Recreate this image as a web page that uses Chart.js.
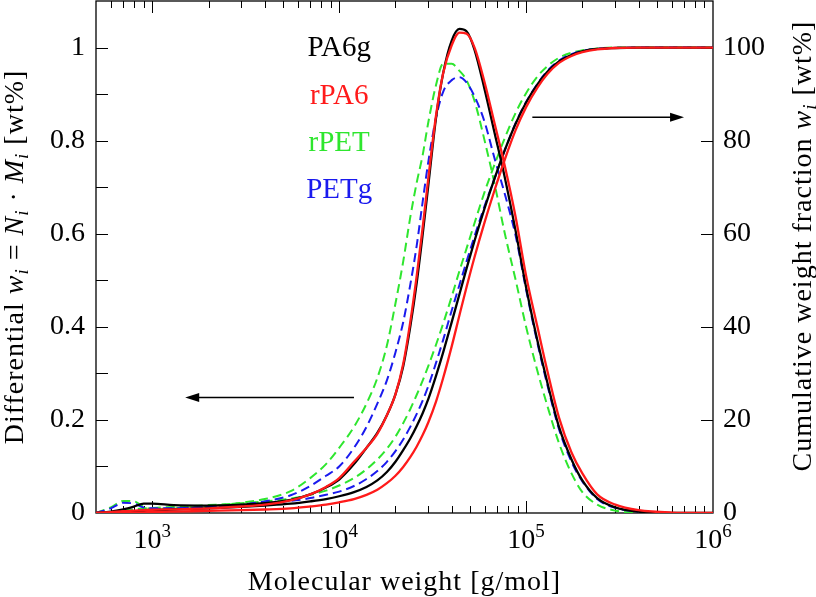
<!DOCTYPE html>
<html>
<head>
<meta charset="utf-8">
<script src="https://cdn.jsdelivr.net/npm/chart.js@4"></script>
<style>
html, body { margin: 0; padding: 0; background: #fff; }
#wrap { width: 816px; height: 597px; }
</style>
</head>
<body>
<div id="wrap"><canvas id="grafico"></canvas></div>
<script>
// massa molar [g/mol]
const massaMolar = [500, 600, 700, 800, 900, 1000, 1300, 2000, 3000, 4000, 5500, 7000, 8500, 10000, 12000,
    14000, 16000, 18000, 20000, 22000, 24000, 26000, 28000, 30000, 33000, 36000, 40000, 44000, 48000, 53000,
    60000, 68000, 77000, 88000, 100000, 115000, 130000, 150000, 175000, 200000, 240000, 300000, 400000, 600000, 1000000]

// diferencial w_i [wt%]
const difPA6g = [0, 0.003, 0.008, 0.014, 0.02, 0.02, 0.017, 0.016, 0.018, 0.021, 0.028, 0.04, 0.055, 0.072, 0.105,
    0.14, 0.172, 0.21, 0.255, 0.315, 0.4, 0.495, 0.6, 0.705, 0.85, 0.945, 1.015, 1.04, 1.035, 0.995,
    0.91, 0.815, 0.72, 0.605, 0.485, 0.37, 0.28, 0.185, 0.115, 0.07, 0.032, 0.012, 0.003, 0, 0]
const difRPA6 = [0, 0.002, 0.004, 0.005, 0.006, 0.007, 0.008, 0.01, 0.014, 0.018, 0.027, 0.04, 0.056, 0.075, 0.11,
    0.14, 0.17, 0.21, 0.255, 0.32, 0.41, 0.51, 0.615, 0.72, 0.855, 0.945, 1.005, 1.032, 1.03, 1.0,
    0.925, 0.835, 0.745, 0.635, 0.51, 0.4, 0.305, 0.205, 0.13, 0.085, 0.04, 0.018, 0.006, 0.001, 0]
const difRPET = [0, 0.012, 0.026, 0.025, 0.013, 0.009, 0.01, 0.015, 0.022, 0.03, 0.047, 0.075, 0.105, 0.14, 0.185,
    0.235, 0.29, 0.36, 0.45, 0.54, 0.635, 0.71, 0.77, 0.84, 0.92, 0.965, 0.965, 0.95, 0.93, 0.885,
    0.8, 0.705, 0.6, 0.5, 0.4, 0.305, 0.23, 0.15, 0.085, 0.045, 0.018, 0.005, 0.001, 0, 0]
const difPETg = [0, 0.01, 0.022, 0.02, 0.012, 0.01, 0.01, 0.013, 0.018, 0.025, 0.038, 0.058, 0.08, 0.1, 0.14,
    0.185, 0.235, 0.285, 0.345, 0.41, 0.49, 0.575, 0.67, 0.755, 0.85, 0.905, 0.93, 0.936, 0.925, 0.895,
    0.84, 0.76, 0.685, 0.595, 0.48, 0.365, 0.275, 0.18, 0.11, 0.068, 0.03, 0.011, 0.003, 0, 0]

// fracao acumulada [wt%]
const cumPA6g = [0, 0.05, 0.15, 0.3, 0.45, 0.55, 0.75, 1.0, 1.3, 1.6, 2.0, 2.5, 3.0, 3.6, 4.5,
    5.6, 7.0, 8.8, 11.0, 13.5, 16.0, 18.7, 21.5, 24.5, 29.5, 34.5, 41.0, 47.0, 52.5, 58.5,
    65.5, 72.0, 78.0, 83.7, 88.2, 92.1, 94.8, 97.0, 98.4, 99.2, 99.7, 99.9, 100, 100, 100]
const cumRPA6 = [0, 0, 0.05, 0.1, 0.15, 0.2, 0.3, 0.45, 0.6, 0.75, 1.0, 1.4, 1.8, 2.3, 3.0,
    3.9, 5.0, 6.4, 8.0, 9.9, 12.0, 14.3, 16.8, 19.5, 24.0, 29.0, 35.8, 42.5, 48.5, 55.0,
    62.5, 69.5, 76.0, 82.3, 87.2, 91.4, 94.3, 96.7, 98.2, 99.0, 99.6, 99.9, 100, 100, 100]
const cumRPET = [0, 0.2, 0.5, 0.8, 1.0, 1.1, 1.3, 1.7, 2.1, 2.5, 3.1, 3.9, 4.8, 5.9, 7.5,
    9.4, 11.5, 13.8, 16.4, 19.3, 22.3, 25.4, 28.5, 31.6, 36.2, 40.7, 46.5, 52.0, 56.8, 62.3,
    69.0, 75.0, 80.6, 86.0, 90.2, 93.8, 96.0, 97.8, 98.9, 99.4, 99.8, 100, 100, 100, 100]
const cumPETg = [0, 0.1, 0.3, 0.5, 0.65, 0.75, 0.95, 1.3, 1.7, 2.1, 2.6, 3.2, 3.9, 4.6, 5.8,
    7.3, 9.0, 11.0, 13.3, 15.8, 18.5, 21.3, 24.2, 27.3, 32.3, 37.2, 43.5, 49.0, 54.0, 59.5,
    66.0, 72.0, 78.0, 83.8, 88.3, 92.2, 95.0, 97.2, 98.6, 99.3, 99.7, 99.9, 100, 100, 100]

const amostras = ['PA6g', 'rPA6', 'rPET', 'PETg']
const posicaoRotulos = [1.0, 0.895, 0.795, 0.695]   // em unidades do eixo esquerdo, x = 1e4
const decadas = [3, 4, 5, 6]

const preto = '#000000'
const vermelho = '#ff1a1a'
const verde = '#2ee62e'
const azul = '#1a1aee'
const fonte = '"Liberation Serif", "DejaVu Serif", serif'

function serie(nome, valores, eixo, cor, tracejado, ordem) {
    return {
        label: nome,
        data: massaMolar.map((m, i) => ({ x: m, y: valores[i] })),
        yAxisID: eixo,
        borderColor: cor,
        borderWidth: tracejado ? 2 : 2.3,
        borderDash: tracejado ? [9, 5] : [],
        pointRadius: 0,
        fill: false,
        cubicInterpolationMode: 'monotone',
        order: ordem
    }
}

function escreverTrechos(ctx, trechos, x, y, angulo) {
    ctx.save()
    ctx.translate(x, y)
    ctx.rotate(angulo)
    ctx.letterSpacing = '1px'
    let total = 0
    trechos.forEach(t => { ctx.font = t.f; total += ctx.measureText(t.t).width })
    let cx = -total / 2
    ctx.textAlign = 'left'
    ctx.textBaseline = 'alphabetic'
    ctx.fillStyle = preto
    trechos.forEach(t => {
        ctx.font = t.f
        ctx.fillText(t.t, cx, t.dy || 0)
        cx += ctx.measureText(t.t).width
    })
    ctx.restore()
}

function seta(ctx, x0, x1, y) {
    const dir = Math.sign(x1 - x0)
    ctx.beginPath()
    ctx.moveTo(x0, y)
    ctx.lineTo(x1 - dir * 12, y)
    ctx.stroke()
    ctx.beginPath()
    ctx.moveTo(x1, y)
    ctx.lineTo(x1 - dir * 14, y - 4.5)
    ctx.lineTo(x1 - dir * 14, y + 4.5)
    ctx.closePath()
    ctx.fill()
}

// tamanho fixo das caixas dos eixos, sem folga automatica
function fixarEixo(largura, altura) {
    return s => {
        if (largura) s.width = largura
        if (altura) s.height = altura
        s.paddingTop = 0
        s.paddingBottom = 0
        s.paddingLeft = 0
        s.paddingRight = 0
    }
}

const normal = `28px ${fonte}`
const italico = `italic 28px ${fonte}`
const sub = `italic 19px ${fonte}`

const enfeites = {
    id: 'enfeites',
    beforeDatasetsDraw(chart) {
        const { ctx, chartArea: a, scales } = chart
        ctx.save()
        ctx.strokeStyle = preto
        ctx.lineWidth = 1.3
        ctx.strokeRect(a.left, a.top, a.right - a.left, a.bottom - a.top)
        ctx.lineWidth = 1
        ctx.beginPath()
        const x = scales.x
        for (let e = 2; e <= 6; e++) {
            for (let k = 1; k <= 9; k++) {
                const v = k * Math.pow(10, e)
                if (v <= x.min || v >= x.max) continue
                const px = Math.round(x.getPixelForValue(v)) + 0.5
                const len = k === 1 ? 12 : 7
                ctx.moveTo(px, a.bottom)
                ctx.lineTo(px, a.bottom - len)
                ctx.moveTo(px, a.top)
                ctx.lineTo(px, a.top + len)
            }
        }
        scales.y.ticks.forEach(t => {
            if (t.value <= 0 || t.value > 1.05) return
            const py = Math.round(scales.y.getPixelForValue(t.value)) + 0.5
            ctx.moveTo(a.left, py)
            ctx.lineTo(a.left + 12, py)
        })
        scales.y2.ticks.forEach(t => {
            if (t.value <= 0 || t.value > 100) return
            const py = Math.round(scales.y2.getPixelForValue(t.value)) + 0.5
            ctx.moveTo(a.right, py)
            ctx.lineTo(a.right - 12, py)
        })
        ctx.stroke()
        ctx.restore()
    },
    afterDraw(chart) {
        const { ctx, chartArea: a, scales } = chart
        const x = scales.x, y = scales.y, y2 = scales.y2
        ctx.save()
        ctx.fillStyle = preto

        // rotulos 10^n
        decadas.forEach(e => {
            const px = x.getPixelForValue(Math.pow(10, e))
            ctx.font = `28px ${fonte}`
            const w1 = ctx.measureText('10').width
            ctx.font = `19px ${fonte}`
            const w2 = ctx.measureText(String(e)).width
            const x0 = px - (w1 + w2) / 2
            ctx.textAlign = 'left'
            ctx.textBaseline = 'alphabetic'
            ctx.font = `28px ${fonte}`
            ctx.fillText('10', x0, a.bottom + 35)
            ctx.font = `19px ${fonte}`
            ctx.fillText(String(e), x0 + w1, a.bottom + 24)
        })

        // titulos
        escreverTrechos(ctx, [{ t: 'Molecular weight [g/mol]', f: normal }], (a.left + a.right) / 2, 590, 0)
        escreverTrechos(ctx, [
            { t: 'Differential ', f: normal },
            { t: 'w', f: italico }, { t: 'i', f: sub, dy: 5 },
            { t: ' = ', f: normal },
            { t: 'N', f: italico }, { t: 'i', f: sub, dy: 5 },
            { t: ' \u00b7 ', f: normal },
            { t: 'M', f: italico }, { t: 'i', f: sub, dy: 5 },
            { t: ' [wt%]', f: normal }
        ], 23, (a.top + a.bottom) / 2, -Math.PI / 2)
        escreverTrechos(ctx, [
            { t: 'Cumulative weight fraction ', f: normal },
            { t: 'w', f: italico }, { t: 'i', f: sub, dy: 5 },
            { t: ' [wt%]', f: normal }
        ], 811, 246, -Math.PI / 2)

        // nomes das amostras
        const cores = [preto, vermelho, verde, azul]
        ctx.font = `29px ${fonte}`
        ctx.textAlign = 'center'
        ctx.textBaseline = 'alphabetic'
        amostras.forEach((nome, i) => {
            ctx.fillStyle = cores[i]
            ctx.fillText(nome, x.getPixelForValue(1e4), y.getPixelForValue(posicaoRotulos[i]) + 8)
        })

        // setas
        ctx.fillStyle = preto
        ctx.strokeStyle = preto
        ctx.lineWidth = 1.5
        seta(ctx, x.getPixelForValue(12000), x.getPixelForValue(1500), y.getPixelForValue(0.248))
        seta(ctx, x.getPixelForValue(108000), x.getPixelForValue(700000), y2.getPixelForValue(85))
        ctx.restore()
    }
}

const grafico = new Chart(document.getElementById('grafico'), {
    type: 'line',
    data: {
        datasets: [
            serie('rPA6', difRPA6, 'y', vermelho, false, 0),
            serie('PA6g', difPA6g, 'y', preto, false, 1),
            serie('PETg', difPETg, 'y', azul, true, 2),
            serie('rPET', difRPET, 'y', verde, true, 3),
            serie('rPA6 acum', cumRPA6, 'y2', vermelho, false, 0),
            serie('PA6g acum', cumPA6g, 'y2', preto, false, 1),
            serie('PETg acum', cumPETg, 'y2', azul, true, 2),
            serie('rPET acum', cumRPET, 'y2', verde, true, 3)
        ]
    },
    options: {
        responsive: true,
        maintainAspectRatio: false,
        animation: false,
        layout: { autoPadding: false, padding: { top: 1, left: 0, right: 0, bottom: 0 } },
        plugins: {
            legend: { display: false },
            tooltip: { enabled: false }
        },
        scales: {
            x: {
                type: 'logarithmic',
                min: 500,
                max: 1000000,
                grid: { display: false, drawTicks: false },
                border: { display: false },
                ticks: { autoSkip: false, callback: () => '' },
                afterFit: fixarEixo(0, 84)
            },
            y: {
                position: 'left',
                min: 0,
                max: 1.1,
                grid: { display: false, drawTicks: false },
                border: { display: false },
                ticks: {
                    stepSize: 0.1,
                    padding: 11,
                    color: preto,
                    font: { family: fonte, size: 28 },
                    callback: v => {
                        const d = Math.round(v * 10)
                        return (d % 2 === 0 && d <= 10) ? String(d / 10) : ''
                    }
                },
                afterFit: fixarEixo(96, 0)
            },
            y2: {
                position: 'right',
                min: 0,
                max: 110,
                grid: { display: false, drawTicks: false },
                border: { display: false },
                ticks: {
                    stepSize: 20,
                    padding: 10,
                    color: preto,
                    font: { family: fonte, size: 28 },
                    callback: v => v <= 100 ? String(v) : ''
                },
                afterFit: fixarEixo(103, 0)
            }
        }
    },
    plugins: [enfeites]
})
</script>
</body>
</html>
